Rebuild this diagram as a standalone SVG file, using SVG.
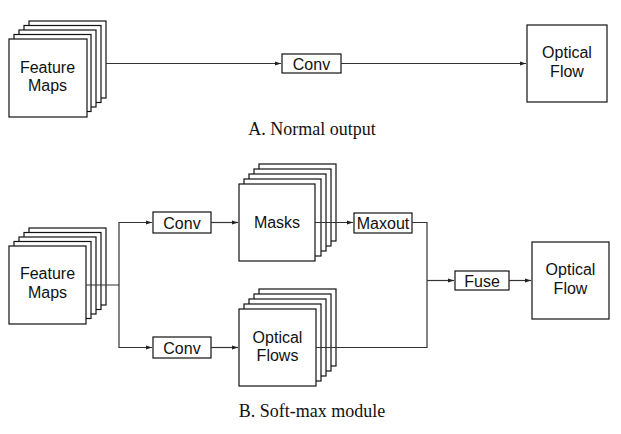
<svg xmlns="http://www.w3.org/2000/svg" width="621" height="434" viewBox="0 0 621 434">
<defs>
<marker id="ah" viewBox="0 0 10 10" refX="10" refY="5" markerWidth="6" markerHeight="6" orient="auto" markerUnits="userSpaceOnUse">
<path d="M0,1.5 L10,5 L0,8.5 z" fill="#222"/>
</marker>
<style>
.box{fill:#fff;stroke:#111;stroke-width:1.2}
.lbl{font-family:"Liberation Sans",Arial,sans-serif;font-size:16px;fill:#111;text-anchor:middle}
.cap{font-family:"Liberation Serif","Times New Roman",serif;font-size:18px;fill:#111;text-anchor:middle}
.ln{fill:none;stroke:#333;stroke-width:1.2}
</style>
</defs>
<rect width="621" height="434" fill="#fff"/>

<g id="fm-a">
<rect class="box" x="29" y="21" width="77" height="77"/>
<rect class="box" x="24" y="25.5" width="77" height="77"/>
<rect class="box" x="19" y="30" width="77" height="77"/>
<rect class="box" x="14" y="34.5" width="77" height="77"/>
<rect class="box" x="9" y="39" width="78" height="78"/>
<text class="lbl" x="47.5" y="72.5">Feature</text>
<text class="lbl" x="47.5" y="90.5">Maps</text>
</g>
<g id="conv-a">
<rect class="box" x="282" y="54" width="59" height="19"/>
<text class="lbl" x="311.5" y="69.5">Conv</text>
</g>
<g id="of-a">
<rect class="box" x="527" y="25" width="80" height="77"/>
<text class="lbl" x="567" y="58">Optical</text>
<text class="lbl" x="567" y="76.5">Flow</text>
</g>
<text class="cap" x="312" y="135">A. Normal output</text>

<g id="fm-b">
<rect class="box" x="29" y="228" width="77" height="77"/>
<rect class="box" x="24" y="232.5" width="77" height="77"/>
<rect class="box" x="19" y="237" width="77" height="77"/>
<rect class="box" x="14" y="241.5" width="77" height="77"/>
<rect class="box" x="9" y="246" width="77" height="78"/>
<text class="lbl" x="47.5" y="279">Feature</text>
<text class="lbl" x="47.5" y="297.5">Maps</text>
</g>
<g id="conv-b1">
<rect class="box" x="153" y="212" width="58" height="21"/>
<text class="lbl" x="182" y="228.5">Conv</text>
</g>
<g id="conv-b2">
<rect class="box" x="153" y="337" width="58" height="21"/>
<text class="lbl" x="182" y="353.5">Conv</text>
</g>
<g id="masks">
<rect class="box" x="259" y="164" width="77" height="77"/>
<rect class="box" x="254" y="169" width="77" height="77"/>
<rect class="box" x="249" y="174" width="77" height="77"/>
<rect class="box" x="244" y="179" width="77" height="77"/>
<rect class="box" x="239" y="184" width="76" height="77"/>
<text class="lbl" x="277" y="227.5">Masks</text>
</g>
<g id="flows">
<rect class="box" x="259" y="289" width="77" height="77"/>
<rect class="box" x="254" y="294" width="77" height="77"/>
<rect class="box" x="249" y="299" width="77" height="77"/>
<rect class="box" x="244" y="304" width="77" height="77"/>
<rect class="box" x="239" y="309" width="77" height="77"/>
<text class="lbl" x="277.5" y="342.5">Optical</text>
<text class="lbl" x="277.5" y="361">Flows</text>
</g>
<g id="maxout">
<rect class="box" x="354" y="213" width="58" height="20"/>
<text class="lbl" x="383" y="228.5">Maxout</text>
</g>
<g id="fuse">
<rect class="box" x="455" y="271" width="54" height="19"/>
<text class="lbl" x="482" y="286.5">Fuse</text>
</g>
<g id="of-b">
<rect class="box" x="532" y="242" width="77" height="77"/>
<text class="lbl" x="570.5" y="275">Optical</text>
<text class="lbl" x="570.5" y="293.5">Flow</text>
</g>
<text class="cap" x="312" y="417">B. Soft-max module</text>

<g id="connectors">
<line class="ln" x1="106" y1="63.5" x2="281" y2="63.5" marker-end="url(#ah)"/>
<line class="ln" x1="341" y1="63.5" x2="526" y2="63.5" marker-end="url(#ah)"/>
<line class="ln" x1="86" y1="285" x2="119" y2="285"/>
<polyline class="ln" points="152,222.5 119,222.5 119,347.5 152,347.5" marker-end="url(#ah)"/>
<line class="ln" x1="119" y1="222.5" x2="152" y2="222.5" marker-end="url(#ah)"/>
<line class="ln" x1="211" y1="222.5" x2="238" y2="222.5" marker-end="url(#ah)"/>
<line class="ln" x1="211" y1="347.5" x2="238" y2="347.5" marker-end="url(#ah)"/>
<line class="ln" x1="315" y1="222.5" x2="353" y2="222.5" marker-end="url(#ah)"/>
<polyline class="ln" points="412,222.5 427,222.5 427,347.5 316,347.5"/>
<line class="ln" x1="427" y1="280.5" x2="454" y2="280.5" marker-end="url(#ah)"/>
<line class="ln" x1="509" y1="280.5" x2="531" y2="280.5" marker-end="url(#ah)"/>
</g>
</svg>
